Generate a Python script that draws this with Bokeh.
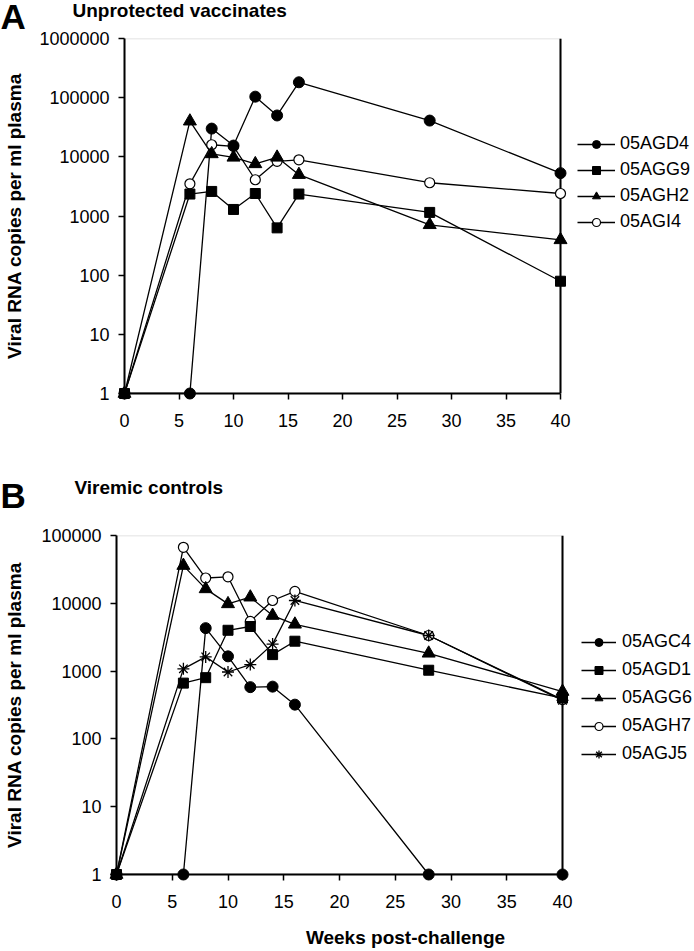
from bokeh.plotting import figure
from bokeh.models import (FixedTicker, Legend, LegendItem, Label, Span,
                          BoxAnnotation)
from bokeh.embed import file_html
from bokeh.resources import INLINE

# ---------------- data ----------------
weeks = [0, 6, 8, 10, 12, 14, 16, 28, 40]

a_title = "Unprotected vaccinates"
a_names = ["05AGD4", "05AGG9", "05AGH2", "05AGI4"]
a_agd4 = [1, 1, 30000, 15500, 104000, 50000, 182000, 41000, 5300]
a_agg9 = [1, 2350, 2600, 1290, 2400, 630, 2350, 1150, 79]
a_agh2 = [1, 40000, 11200, 9800, 7600, 9800, 5000, 710, 395]
a_agi4 = [1, 3500, 16000, 15000, 4100, 8400, 8900, 3650, 2400]

b_title = "Viremic controls"
b_names = ["05AGC4", "05AGD1", "05AGG6", "05AGH7", "05AGJ5"]
b_agc4 = [1, 1, 4300, 1650, 580, 590, 320, 1, 1]
b_agd1 = [1, 665, 800, 4000, 4550, 1750, 2760, 1030, 400]
b_agg6 = [1, 36000, 16300, 9800, 12300, 6600, 4900, 1830, 500]
b_agh7 = [1, 67000, 23600, 24600, 5400, 11000, 15000, 3350, 380]
b_agj5 = [1, 1080, 1620, 970, 1250, 2500, 11000, 3350, 370]

x_ticks = [0, 5, 10, 15, 20, 25, 30, 35, 40]
a_y_ticks = [1, 10, 100, 1000, 10000, 100000, 1000000]
b_y_ticks = [1, 10, 100, 1000, 10000, 100000]
y_label = "Viral RNA copies per ml plasma"
x_label = "Weeks post-challenge"

FONT = "Liberation Sans"
W = 694

MARK = {
    "circle": dict(marker="circle", size=11, fill_color="black", line_color="black"),
    "square": dict(marker="square", size=10, fill_color="black", line_color="black"),
    "triangle": dict(marker="triangle", size=13, fill_color="black", line_color="black"),
    "open": dict(marker="circle", size=10, fill_color="white", line_color="black", line_width=1.2),
    "asterisk": dict(marker="asterisk", size=12, fill_color=None, line_color="black", line_width=1.3),
}


def header(letter, title, height, letter_y, title_y, title_x):
    h = figure(width=W, height=height, x_range=(0, 1), y_range=(0, 1),
               output_backend="svg", toolbar_location=None, min_border=0,
               x_axis_location=None, y_axis_location=None)
    h.grid.visible = False
    h.outline_line_color = None
    h.add_layout(Label(x=0, y=letter_y, x_units="screen", y_units="screen",
                       text=letter, text_font=FONT, text_font_size="35px",
                       text_font_style="bold", text_color="black",
                       text_baseline="middle"))
    h.add_layout(Label(x=title_x, y=title_y, x_units="screen", y_units="screen",
                       text=title, text_font=FONT, text_font_size="19px",
                       text_font_style="bold", text_color="black",
                       text_baseline="middle"))
    return h


def panel(names, series, markers, draw_order, y_ticks, height, border_top,
          border_bottom, border_left, data_w, ylab_standoff, show_xlabel,
          legend_dx, legend_y, legend_spacing, glyph_w, label_sd):
    frame_w = W - border_left
    x_end = x_ticks[-1] * frame_w / data_w
    p = figure(width=W, height=height, y_axis_type="log",
               x_range=(x_ticks[0], x_end), y_range=(y_ticks[0], y_ticks[-1]),
               output_backend="svg", toolbar_location=None,
               min_border_top=border_top, min_border_bottom=border_bottom,
               min_border_left=border_left, min_border_right=0)
    p.grid.visible = False
    p.outline_line_color = None

    for ax in (p.xaxis[0], p.yaxis[0]):
        ax.axis_line_width = 2
        ax.axis_line_color = "black"
        ax.major_tick_line_width = 1.5
        ax.major_tick_line_color = "black"
        ax.major_tick_out = 6
        ax.major_tick_in = 0
        ax.minor_tick_line_color = None
        ax.major_label_text_font = FONT
        ax.major_label_text_font_size = "18px"
        ax.major_label_text_color = "black"
        ax.axis_label_text_font = FONT
        ax.axis_label_text_font_size = "19px"
        ax.axis_label_text_font_style = "bold"
        ax.axis_label_text_color = "black"

    p.xaxis.ticker = FixedTicker(ticks=x_ticks)
    p.xaxis.bounds = (x_ticks[0], x_ticks[-1])
    p.xaxis.major_label_standoff = 14
    if show_xlabel:
        p.xaxis.axis_label = x_label
        p.xaxis.axis_label_standoff = 16

    p.yaxis.ticker = FixedTicker(ticks=y_ticks)
    p.yaxis.major_label_overrides = {t: str(t) for t in y_ticks}
    p.yaxis.major_label_standoff = 9
    p.yaxis.axis_label = y_label
    p.yaxis.axis_label_standoff = ylab_standoff

    # plot-area border: grey top, black right
    p.add_layout(BoxAnnotation(left=x_ticks[0], right=x_ticks[-1],
                               bottom=y_ticks[0], top=y_ticks[-1],
                               fill_color=None, line_color="#808080",
                               line_width=1.5, level="underlay"))
    p.add_layout(Span(location=x_ticks[-1], dimension="height",
                      line_color="black", line_width=2))

    rends = {}
    for i in draw_order:
        lr = p.line(weeks, series[i], line_color="black", line_width=1.3)
        sr = p.scatter(weeks, series[i], level="overlay", **MARK[markers[i]])
        rends[i] = [lr, sr]
    items = [LegendItem(label=names[i], renderers=rends[i]) for i in range(len(names))]

    leg = Legend(items=items, location=(data_w + legend_dx, legend_y),
                 orientation="vertical",
                 border_line_color=None, background_fill_alpha=0,
                 padding=0, margin=0, spacing=legend_spacing,
                 glyph_width=glyph_w, glyph_height=20, label_height=20,
                 label_standoff=label_sd, label_text_font=FONT,
                 label_text_font_size="18px", label_text_color="black")
    p.add_layout(leg)
    return p


h1 = header("A", a_title, height=30, letter_y=14.5, title_y=20.5, title_x=72)
p1 = panel(a_names, [a_agd4, a_agg9, a_agh2, a_agi4],
           ["circle", "square", "triangle", "open"], [3, 2, 0, 1], a_y_ticks,
           height=438, border_top=8, border_bottom=75, border_left=124,
           data_w=436, ylab_standoff=11, show_xlabel=False,
           legend_dx=17, legend_y=161, legend_spacing=5, glyph_w=38, label_sd=5)

h2 = header("B", b_title, height=40, letter_y=13, title_y=21, title_x=74)
p2 = panel(b_names, [b_agc4, b_agd1, b_agg6, b_agh7, b_agj5],
           ["circle", "square", "triangle", "open", "asterisk"], [0, 3, 4, 2, 1],
           b_y_ticks,
           height=442, border_top=27, border_bottom=76, border_left=116,
           data_w=446, ylab_standoff=13, show_xlabel=True,
           legend_dx=19, legend_y=110, legend_spacing=7, glyph_w=35, label_sd=6)

open("out.html", "w").write(file_html([h1, p1, h2, p2], INLINE))
